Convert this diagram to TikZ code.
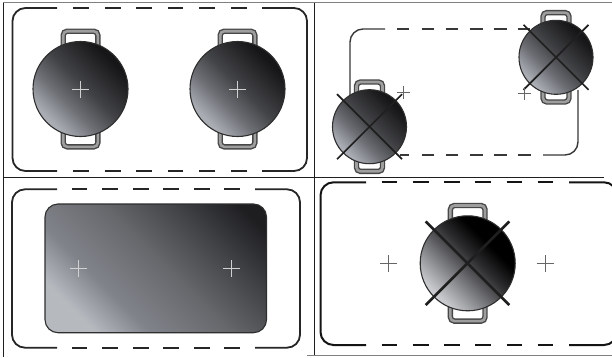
\documentclass[tikz,border=0pt]{standalone}
\definecolor{pA}{RGB}{170,173,180}
\definecolor{pB}{RGB}{108,110,116}
\definecolor{pC}{RGB}{66,67,70}
\definecolor{pD}{RGB}{22,22,24}
\definecolor{qA}{RGB}{200,202,206}
\definecolor{qB}{RGB}{115,116,120}
\definecolor{qC}{RGB}{45,45,47}
\definecolor{qD}{RGB}{0,0,0}
\definecolor{rA}{RGB}{182,185,190}
\definecolor{rB}{RGB}{128,131,138}
\definecolor{rC}{RGB}{103,104,108}
\definecolor{rD}{RGB}{64,66,70}
\definecolor{rE}{RGB}{30,30,33}
\pgfdeclareverticalshading{potshade}{100bp}{color(0bp)=(pA); color(27bp)=(pA); color(40bp)=(pB); color(52bp)=(pC); color(72bp)=(pD); color(100bp)=(pD)}
\pgfdeclareverticalshading{potdark}{100bp}{color(0bp)=(qA); color(27bp)=(qA); color(42bp)=(qB); color(54bp)=(qC); color(65bp)=(qD); color(100bp)=(qD)}
\pgfdeclareverticalshading{panelshade}{100bp}{color(0bp)=(rA); color(25bp)=(rA); color(36bp)=(rB); color(52bp)=(rC); color(67bp)=(rD); color(80bp)=(rE); color(100bp)=(rE)}
\newcommand{\potat}[6]{%
  \foreach \s in {-1,1}{
    \draw[handle] (#1-#4,#2) -- (#1-#4,{#2+\s*#5}) -- (#1+#4,{#2+\s*#5}) -- (#1+#4,#2);
    \draw[handlein] (#1-#4,#2) -- (#1-#4,{#2+\s*#5}) -- (#1+#4,{#2+\s*#5}) -- (#1+#4,#2);
  }
  \shade[shading=#6,shading angle=-45] (#1,#2) circle[radius=#3];
  \draw[potedge] (#1,#2) circle[radius=#3];
}
\newcommand{\crossat}[4]{%
  \draw[cross,line width=#4] (#1-#3,#2-#3) -- (#1+#3,#2+#3);
  \draw[cross,line width=#4] (#1-#3,#2+#3) -- (#1+#3,#2-#3);
}
\newcommand{\plusat}[4]{%
  \draw[#4] (#1-#3,#2) -- (#1+#3,#2);
  \draw[#4] (#1,#2-#3) -- (#1,#2+#3);
}
\newcommand{\dashrow}[3]{%
  \foreach \a/\b in {#2}{\draw[#3] (\a,#1) -- (\b,#1);}
}
\begin{document}
\begin{tikzpicture}[x=1pt,y=-1pt,
  gridline/.style={line width=1pt,draw=black!88},
  gridgray/.style={line width=1.3pt,draw=black!50},
  outline/.style={line width=1.8pt,draw=black!85},
  outlinethin/.style={line width=1.4pt,draw=black!78},
  outlinethick/.style={line width=2pt,draw=black!92},
  handle/.style={rounded corners=4pt,line width=5.4pt,draw=black!72},
  handlein/.style={rounded corners=4pt,line width=2.6pt,draw=black!38},
  potedge/.style={line width=1.1pt,draw=black!82},
  cross/.style={draw=black!88},
  pluslight/.style={line width=0.8pt,draw=black!18},
  plusdark/.style={line width=0.8pt,draw=black!60}]
\useasboundingbox (0,0) rectangle (612,357);
\fill[white] (0,0) rectangle (612,357);
\clip (0,0) rectangle (612,357);
% table lines
\draw[gridgray] (3,2.5) -- (612,2.5);
\draw[gridline] (3.5,2.5) -- (3.5,357);
\draw[gridline] (314.5,2.5) -- (314.5,356);
\draw[gridline] (3.5,177.5) -- (604,177.5);
\draw[gridgray] (307,355.7) -- (612,355.7);
% panel 1
\draw[outline,rounded corners=13pt] (57,8) -- (12.5,8) -- (12.5,171) -- (57,171);
\draw[outline,rounded corners=13pt] (262,8) -- (307,8) -- (307,171) -- (262,171);
\dashrow{8}{73/89,105/121,136/152,168/183,199/215,231/247}{outline}
\dashrow{171}{73/89,105/121,136/152,168/183,199/215,231/247}{outline}
\potat{80.5}{89}{47.5}{17.3}{57.8}{potshade}
\potat{237.5}{89}{47.5}{17.3}{57.8}{potshade}
\plusat{80.5}{89}{8.5}{pluslight}
\plusat{237.5}{89}{8.5}{pluslight}
% panel 2
\draw[outlinethin,rounded corners=13pt] (385,29) -- (350,29) -- (350,100);
\draw[outlinethin,rounded corners=13pt] (543,155) -- (578,155) -- (578,90);
\dashrow{29}{397/409,422/434,446/458,470/483,494/507,518/530}{outlinethin}
\dashrow{155}{400/409,422/434,446/458,470/483,494/507,518/531}{outlinethin}
\potat{369.5}{126.7}{37}{13}{44.7}{potshade}
\potat{556}{57.3}{37}{13}{44.7}{potshade}
\crossat{369.5}{126.7}{32.5}{1.7pt}
\crossat{556}{57.3}{32.5}{1.7pt}
\plusat{403.3}{92.3}{6.5}{plusdark}
\plusat{524.3}{93.3}{6.5}{plusdark}
% panel 3
\draw[outline,rounded corners=13pt] (57,189.3) -- (12,189.3) -- (12,347.7) -- (57,347.7);
\draw[outline,rounded corners=13pt] (255,189.3) -- (300,189.3) -- (300,347.7) -- (255,347.7);
\dashrow{189.3}{72/87,102/118,133/149,163/179,194/210,224/240}{outline}
\dashrow{347.7}{72/87,102/118,133/149,163/179,194/210,224/240}{outline}
\shade[shading=panelshade,shading angle=-45,rounded corners=13pt] (45,204) rectangle (266.5,332.7);
\draw[potedge,rounded corners=13pt] (45,204) rectangle (266.5,332.7);
\plusat{78.5}{268.5}{8.5}{pluslight}
\plusat{231.5}{268.5}{8.5}{pluslight}
% panel 4
\draw[outlinethick,rounded corners=13pt] (366,182.3) -- (320.5,182.3) -- (320.5,345) -- (366,345);
\draw[outlinethick,rounded corners=13pt] (569,182.3) -- (617,182.3) -- (617,345) -- (569,345);
\dashrow{182.3}{381.7/397.3,412.7/428.7,444/460,475/491,506.7/522.3,537.7/553.3}{outlinethick}
\dashrow{345}{381.7/397.3,412.7/428.7,444/460,475/491,506.7/522.3,537.7/553.3}{outlinethick}
\potat{467.7}{263.3}{47.5}{17.3}{57.8}{potdark}
\crossat{467.5}{263.3}{41.8}{2.6pt}
\plusat{388.5}{263.5}{8.5}{plusdark}
\plusat{545}{263.5}{8.5}{plusdark}
\end{tikzpicture}
\end{document}
